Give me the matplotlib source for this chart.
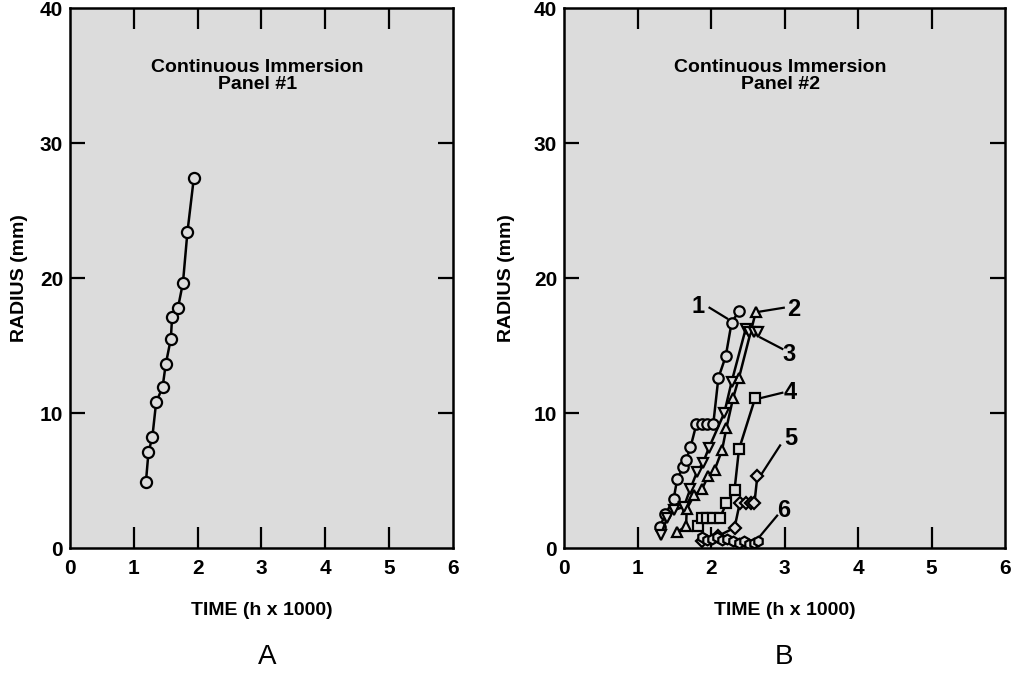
import matplotlib
matplotlib.use('Agg')
import matplotlib.pyplot as plt

plt.rcParams['font.family'] = ['Liberation Sans', 'DejaVu Sans']

# panel A - continuous immersion, panel #1
a_time = [1.19, 1.23, 1.29, 1.35, 1.45, 1.50, 1.58, 1.60, 1.69, 1.77, 1.84, 1.94]
a_radius = [4.9, 7.1, 8.2, 10.8, 11.9, 13.6, 15.5, 17.1, 17.75, 19.65, 23.4, 27.4]

# panel B - continuous immersion, panel #2 (pits 1-6)
b1_time = [1.30, 1.38, 1.49, 1.54, 1.62, 1.66, 1.72, 1.80, 1.88, 1.95, 2.03, 2.10, 2.20, 2.28, 2.38]
b1_radius = [1.55, 2.5, 3.6, 5.1, 6.0, 6.5, 7.45, 9.15, 9.15, 9.15, 9.15, 12.6, 14.2, 16.7, 17.55]

b2_time = [1.54, 1.66, 1.67, 1.77, 1.88, 1.96, 2.05, 2.15, 2.21, 2.30, 2.38, 2.61]
b2_radius = [1.2, 1.6, 2.9, 3.9, 4.4, 5.3, 5.8, 7.25, 8.9, 11.1, 12.6, 17.5]

b3_time = [1.32, 1.40, 1.49, 1.63, 1.72, 1.81, 1.89, 1.97, 2.18, 2.28, 2.47, 2.52, 2.58, 2.64]
b3_radius = [1.0, 2.2, 2.8, 3.05, 4.4, 5.65, 6.3, 7.4, 10.0, 12.3, 16.2, 16.0, 16.0, 16.0]

b4_time = [1.82, 1.88, 1.95, 2.03, 2.12, 2.21, 2.32, 2.38, 2.60]
b4_radius = [1.6, 2.25, 2.25, 2.25, 2.25, 3.3, 4.3, 7.3, 11.1]

b5_time = [1.88, 2.10, 2.32, 2.39, 2.47, 2.54, 2.59, 2.63]
b5_radius = [0.5, 0.9, 1.5, 3.3, 3.3, 3.3, 3.3, 5.3]

b6_time = [1.88, 1.95, 2.02, 2.08, 2.15, 2.22, 2.30, 2.38, 2.45, 2.52, 2.58, 2.64]
b6_radius = [0.8, 0.6, 0.7, 0.8, 0.6, 0.7, 0.5, 0.4, 0.5, 0.3, 0.4, 0.5]

# label text, label position, leader start/end for each pit curve
pit_labels = ['1', '2', '3', '4', '5', '6']
label_xy = [(1.82, 17.9), (3.12, 17.7), (3.06, 14.3), (3.08, 11.5), (3.08, 8.1), (2.99, 2.8)]
leader_from = [(1.98, 17.8), (2.99, 17.8), (2.97, 14.75), (2.97, 11.5), (2.94, 7.6), (2.90, 2.4)]
leader_to = [(2.22, 17.0), (2.65, 17.5), (2.67, 15.6), (2.67, 11.1), (2.69, 5.5), (2.67, 0.9)]

bg = '#dcdcdc'


def style_axes(ax, title):
    ax.set_facecolor(bg)
    ax.set_xlim(0, 6)
    ax.set_ylim(0, 40)
    ax.set_xticks(range(0, 7))
    ax.set_yticks(range(0, 41, 10))
    ax.tick_params(axis='x', direction='in', length=15, width=1.6,
                   top=True, pad=8, labelsize=15)
    ax.tick_params(axis='y', direction='in', length=11, width=1.6,
                   right=True, pad=5, labelsize=15)
    for t in ax.get_xticklabels() + ax.get_yticklabels():
        t.set_fontweight('bold')
    # hide edge ticks (they sit on the frame)
    for tk in [ax.xaxis.get_major_ticks()[0], ax.xaxis.get_major_ticks()[-1],
               ax.yaxis.get_major_ticks()[0], ax.yaxis.get_major_ticks()[-1]]:
        tk.tick1line.set_visible(False)
        tk.tick2line.set_visible(False)
    for s in ax.spines.values():
        s.set_linewidth(1.8)
    ax.set_xlabel('TIME (h x 1000)', fontsize=14, fontweight='bold')
    ax.set_ylabel('RADIUS (mm)', fontsize=14, fontweight='bold')
    ax.xaxis.set_label_coords(0.5, -0.1)
    ax.text(0.49, 0.875, title, transform=ax.transAxes, ha='center', va='center',
            fontsize=14, fontweight='bold', linespacing=1.0)


fig = plt.figure(figsize=(10.17, 6.99), dpi=100)
axA = fig.add_axes([0.0688, 0.216, 0.3766, 0.7725])
axB = fig.add_axes([0.5546, 0.216, 0.4336, 0.7725])

style_axes(axA, 'Continuous Immersion\nPanel #1')
style_axes(axB, 'Continuous Immersion\nPanel #2')
axA.yaxis.set_label_coords(-0.11, 0.5)
axB.yaxis.set_label_coords(-0.112, 0.5)

mk = dict(color='black', lw=1.8, markerfacecolor=bg, markeredgecolor='black',
          markeredgewidth=1.6)
axA.plot(a_time, a_radius, marker='o', markersize=8, **mk)

axB.plot(b1_time, b1_radius, marker='o', markersize=7.5, **mk)
axB.plot(b2_time, b2_radius, marker='^', markersize=7, **mk)
axB.plot(b3_time, b3_radius, marker='v', markersize=7, **mk)
axB.plot(b4_time, b4_radius, marker='s', markersize=6.5, **mk)
axB.plot(b5_time, b5_radius, marker='D', markersize=6, **mk)
axB.plot(b6_time, b6_radius, marker='h', markersize=7, **mk)

for lab, pos, p0, p1 in zip(pit_labels, label_xy, leader_from, leader_to):
    axB.plot([p0[0], p1[0]], [p0[1], p1[1]], color='black', lw=1.6)
    axB.text(pos[0], pos[1], lab, ha='center', va='center',
             fontsize=17, fontweight='bold')

fig.text(0.2625, 0.06, 'A', ha='center', va='center', fontsize=20)
fig.text(0.771, 0.06, 'B', ha='center', va='center', fontsize=20)

fig.savefig('out.png', dpi=100, facecolor='white')
